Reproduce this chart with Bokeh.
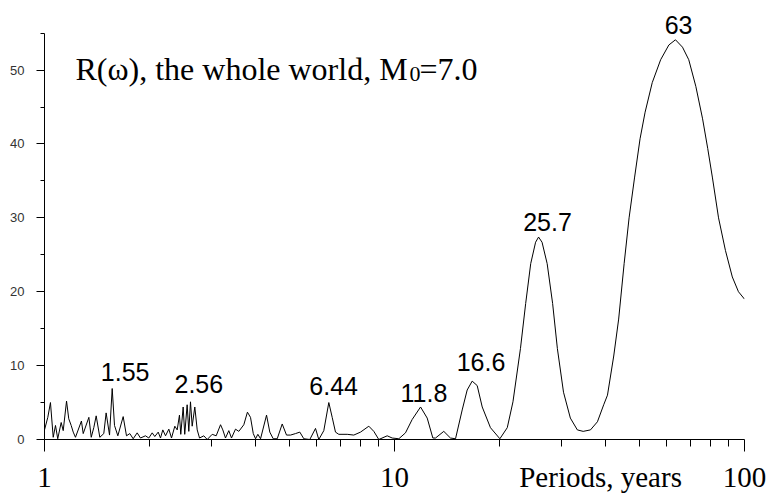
from bokeh.plotting import figure
from bokeh.models import FixedTicker, Label, PrintfTickFormatter, ColumnDataSource, LogAxis
from bokeh.embed import file_html
from bokeh.resources import INLINE

# ---- data ----
period = [1.0, 1.022, 1.040, 1.059, 1.075, 1.091, 1.116, 1.131, 1.156, 1.173, 1.192, 1.208,
          1.226, 1.275, 1.290, 1.339, 1.360, 1.383, 1.405, 1.439, 1.477, 1.500, 1.534, 1.561,
          1.585, 1.620, 1.678, 1.715, 1.753, 1.792, 1.840, 1.880, 1.943, 1.986, 2.031, 2.066,
          2.113, 2.145, 2.178, 2.217, 2.266, 2.306, 2.357, 2.394, 2.430, 2.451, 2.490, 2.516,
          2.556, 2.584, 2.613, 2.642, 2.688, 2.731, 2.773, 2.852, 2.917, 3.014, 3.094, 3.184,
          3.232, 3.289, 3.362, 3.422, 3.513, 3.591, 3.711, 3.80, 3.878, 3.949, 4.009, 4.070,
          4.143, 4.309, 4.403, 4.503, 4.623, 4.777, 4.914, 5.046, 5.214, 5.364, 5.507, 5.728,
          5.947, 6.077, 6.281, 6.491, 6.637, 6.783, 6.932, 7.326, 7.651, 7.996, 8.446, 8.728,
          9.019, 9.531, 9.849, 10.29, 10.75, 11.23, 11.87, 12.40, 12.87, 13.10, 13.83, 14.45,
          14.94, 15.61, 16.13, 16.67, 17.23, 17.81, 18.8, 20.0, 21.0, 21.8, 22.9, 23.7, 24.5,
          25.3, 25.8, 26.4, 27.3, 28.3, 29.2, 30.4, 31.8, 33.3, 34.6, 36.3, 38.0, 39.6, 40.6,
          42.3, 43.7, 45.3, 46.8, 48.5, 50.3, 52.0, 54.5, 57.6, 60.8, 63.5, 66.5, 69.3, 72.6,
          75.9, 78.5, 81.0, 84.3, 88.2, 92.3, 96.1, 100.0]
power = [1.3, 3.0, 5.0, 0.3, 1.9, 0.1, 2.3, 1.2, 5.2, 2.8, 1.9, 1.0,
         0.3, 2.5, 0.8, 3.0, 0.3, 1.6, 3.2, 0.3, 0.8, 3.6, 0.6, 6.9,
         1.9, 0.5, 3.1, 0.5, 0.8, 0.1, 0.9, 0.2, 0.5, 0.2, 0.9, 0.4,
         1.0, 0.2, 1.3, 0.5, 1.4, 0.2, 1.8, 1.3, 3.3, 0.7, 4.4, 0.7,
         4.7, 1.1, 5.1, 1.8, 4.4, 1.3, 0.2, 0.5, 0.0, 0.7, 0.5, 2.0,
         1.3, 0.2, 1.2, 0.2, 1.4, 1.1, 2.0, 3.7, 3.0, 0.8, 0.1, 0.7,
         0.1, 3.3, 1.0, 0.1, 0.1, 2.1, 0.6, 0.6, 0.8, 1.0, 0.1, 0.0,
         1.5, 0.0, 1.2, 5.0, 3.0, 1.0, 0.7, 0.7, 0.6, 1.0, 1.8, 1.1,
         0.0, 0.5, 0.2, 0.1, 0.9, 2.7, 4.4, 2.9, 0.2, 0.2, 1.1, 0.2,
         0.1, 4.0, 6.7, 7.9, 7.3, 4.4, 1.6, 0.1, 1.6, 5.1, 12.3, 18.4, 23.8,
         26.7, 27.4, 26.7, 23.8, 18.4, 12.3, 6.4, 2.9, 1.3, 1.1, 1.3, 2.4, 4.7, 6.0,
         11.3, 16.3, 23.8, 30.0, 35.4, 40.7, 44.3, 48.3, 51.4, 53.4, 54.1, 53.1, 51.4, 47.8,
         43.4, 39.4, 35.4, 30.0, 25.6, 22.0, 20.0, 19.0]

peak_labels = ["1.55", "2.56", "6.44", "11.8", "16.6", "25.7", "63"]
# anchor (data units) of each peak label: centre x, text position y
label_x = [1.70, 2.76, 6.70, 12.14, 17.67, 27.36, 64.8]
label_y = [9.1, 7.5, 7.2, 6.3, 10.5, 29.4, 56.1]

x_major = [1, 10, 100]
x_minor = [2, 3, 4, 5, 6, 7, 8, 9, 20, 30, 40, 50, 60, 70, 80, 90]
y_major = [0, 10, 20, 30, 40, 50]
y_minor = [5, 15, 25, 35, 45, 55]
y_axis_extent = (0, 55)

title_main = "R(\u03c9), the whole world, M"
title_sub = "0"
title_tail = "=7.0"
x_label = "Periods, years"
x_label_at = 38.8   # period under the centre of the caption

# ---- figure ----
p = figure(width=767, height=495, x_axis_type="log", x_range=(1, 100), y_range=(0, 58.74),
           output_backend="svg", toolbar_location=None,
           min_border_left=44, min_border_right=23, min_border_top=5, min_border_bottom=50)
p.outline_line_color = None
p.xgrid.grid_line_color = None
p.ygrid.grid_line_color = None
p.background_fill_color = "white"
p.border_fill_color = "white"

src = ColumnDataSource(dict(period=period, power=power))
p.line(x="period", y="power", source=src, line_color="black", line_width=1)

# x axis: line and ticks (its own labels hidden)
p.xaxis.ticker = FixedTicker(ticks=x_major, minor_ticks=x_minor)
p.xaxis.axis_line_color = "black"
p.xaxis.major_tick_line_color = "black"
p.xaxis.minor_tick_line_color = "black"
p.xaxis.major_tick_out = 12
p.xaxis.major_tick_in = 0
p.xaxis.minor_tick_out = 7
p.xaxis.minor_tick_in = 0
p.xaxis.major_label_text_font_size = "1px"
p.xaxis.major_label_text_alpha = 0
p.xaxis.major_label_standoff = 0

# x axis labels (tick numbers + caption on one line)
lab_axis = LogAxis(ticker=FixedTicker(ticks=x_major + [x_label_at], minor_ticks=[]),
                   formatter=PrintfTickFormatter(format="%d"),
                   major_label_overrides={x_label_at: x_label},
                   axis_line_color=None, major_tick_line_color=None, minor_tick_line_color=None,
                   major_tick_out=0, major_tick_in=0, minor_tick_out=0, minor_tick_in=0,
                   major_label_standoff=9, major_label_text_font="Liberation Serif",
                   major_label_text_font_size="29px", major_label_text_color="black")
p.add_layout(lab_axis, "below")

# y axis
p.yaxis.ticker = FixedTicker(ticks=y_major, minor_ticks=y_minor)
p.yaxis.bounds = y_axis_extent
p.yaxis.axis_line_color = "black"
p.yaxis.major_tick_line_color = "black"
p.yaxis.minor_tick_line_color = "black"
p.yaxis.major_tick_out = 8
p.yaxis.major_tick_in = 0
p.yaxis.minor_tick_out = 4
p.yaxis.minor_tick_in = 0
p.yaxis.major_label_text_font = "Liberation Sans"
p.yaxis.major_label_text_font_size = "13px"
p.yaxis.major_label_text_color = "#333333"
p.yaxis.major_label_standoff = 12

# peak labels
for t, lx, ly in zip(peak_labels, label_x, label_y):
    p.add_layout(Label(x=lx, y=ly, text=t, text_align="center", text_baseline="alphabetic",
                       text_font="Liberation Sans", text_font_size="25px", text_color="black"))

# title pieces
tx, ty = 1.226, 50.1
p.add_layout(Label(x=tx, y=ty, text=title_main, text_align="left", text_baseline="alphabetic",
                   text_font="Liberation Serif", text_font_size="32px", text_color="black"))
p.add_layout(Label(x=tx, y=ty, x_offset=334, y_offset=-5, text=title_sub, text_align="left",
                   text_baseline="alphabetic", text_font="Liberation Serif",
                   text_font_size="22px", text_color="black"))
p.add_layout(Label(x=tx, y=ty, x_offset=344, text=title_tail, text_align="left",
                   text_baseline="alphabetic", text_font="Liberation Serif",
                   text_font_size="32px", text_color="black"))

open("out.html", "w").write(file_html(p, INLINE))
